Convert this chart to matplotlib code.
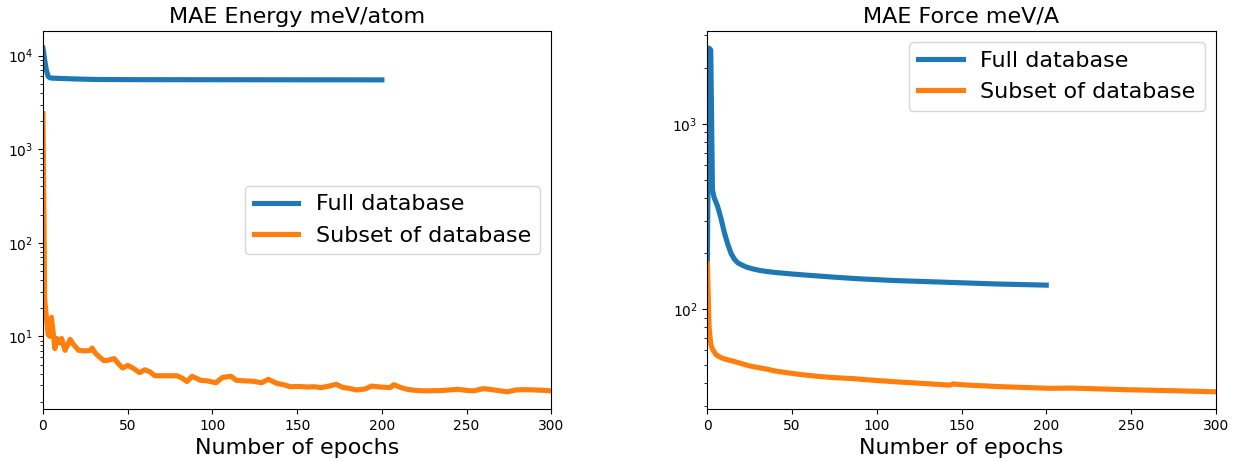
import numpy as np
import matplotlib
matplotlib.use('Agg')
import matplotlib.pyplot as plt

# energy MAE (meV/atom)
energy_full_ep = [0, 1, 2, 3, 4, 5, 10, 20, 30, 50, 100, 150, 200]
energy_full = [12000, 9000, 7000, 6000, 5800, 5750, 5700, 5620, 5560, 5530, 5520, 5510, 5500]

energy_sub_ep = [0, 1, 2, 3, 4, 5, 6, 7, 8, 9, 10, 11, 13, 16, 18, 21, 25, 28, 29, 31,
                 33, 36, 39, 42, 45, 47, 50, 53, 57, 60, 63, 66, 71, 75, 79, 82, 85, 88,
                 93, 97, 102, 106, 111, 114, 119, 124, 129, 133, 138, 142, 146, 151, 156,
                 160, 164, 169, 173, 177, 181, 185, 190, 194, 199, 205, 207, 211, 215, 220,
                 225, 235, 245, 250, 254, 260, 265, 274, 279, 284, 290, 295, 300]
energy_sub = [2400, 25, 16, 10.5, 10, 16, 11, 7.4, 9.5, 9.3, 8.5, 9.5, 7.1, 9.3, 8.2, 7.1,
              7.0, 7.1, 7.5, 6.6, 6.1, 5.5, 5.6, 5.8, 5.0, 4.6, 4.9, 4.6, 4.1, 4.4, 4.2, 3.8,
              3.8, 3.8, 3.8, 3.6, 3.3, 3.75, 3.4, 3.35, 3.2, 3.65, 3.75, 3.4, 3.35, 3.32, 3.2,
              3.48, 3.15, 3.05, 2.9, 2.92, 2.88, 2.9, 2.84, 2.95, 3.08, 2.85, 2.78, 2.68, 2.74,
              2.95, 2.88, 2.84, 3.05, 2.85, 2.72, 2.65, 2.62, 2.64, 2.72, 2.65, 2.62, 2.77,
              2.7, 2.56, 2.68, 2.7, 2.68, 2.66, 2.62]

# force MAE (meV/A)
force_full_ep = [0, 1, 2, 3, 4, 6, 8, 10, 12, 14, 16, 18, 20, 23, 27, 31, 35, 40, 50, 60,
                 75, 90, 110, 130, 150, 170, 200]
force_full = [180, 2560, 2500, 440, 400, 360, 310, 260, 225, 200, 186, 178, 174, 169, 165,
              162, 160, 158, 155, 152.5, 149, 146, 143, 141, 139, 137, 135]

force_sub_ep = [0, 1, 2, 3, 5, 7, 10, 15, 20, 25, 30, 35, 40, 47, 55, 65, 75, 86, 100, 114,
                130, 143, 145, 146, 150, 172, 202, 215, 250, 275, 300]
force_sub = [176, 80, 65, 61, 57, 55.5, 54, 52.6, 51, 49.5, 48.5, 47.6, 46.5, 45.5, 44.5,
             43.5, 42.8, 42.3, 41.3, 40.5, 39.7, 39.0, 39.6, 39.5, 39.2, 38.3, 37.5, 37.6,
             36.8, 36.4, 35.9]

labels = ['Full database', 'Subset of database']

fig, axs = plt.subplots(1, 2, figsize=(12.39, 4.61), dpi=100)

axs[0].plot(energy_full_ep, energy_full, lw=3.7, label=labels[0])
axs[0].plot(energy_sub_ep, energy_sub, lw=3.7, label=labels[1])
axs[0].set_yscale('log')
axs[0].set_xlim(0, 300)
axs[0].set_title('MAE Energy meV/atom', fontsize=16)
axs[0].set_xlabel('Number of epochs', fontsize=16)
axs[0].legend(loc='center right', fontsize=16)

axs[1].plot(force_full_ep, force_full, lw=3.7, label=labels[0])
axs[1].plot(force_sub_ep, force_sub, lw=3.7, label=labels[1])
axs[1].set_yscale('log')
axs[1].set_xlim(0, 300)
axs[1].set_title('MAE Force meV/A', fontsize=16)
axs[1].set_xlabel('Number of epochs', fontsize=16)
axs[1].legend(loc='upper right', fontsize=16)

plt.subplots_adjust(left=0.0347, right=0.9812, top=0.9328, bottom=0.1128, wspace=0.307)
plt.savefig('out.png', dpi=100)
